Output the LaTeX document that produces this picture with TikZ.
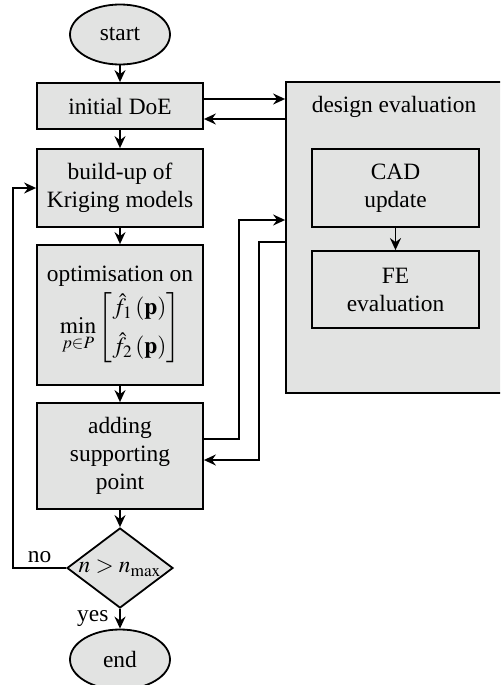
\documentclass[tikz,border=0pt]{standalone}
\usepackage{amsmath}
\usepackage{mathptmx}
\usepackage{fontspec}
\setmainfont{Liberation Serif}
\usetikzlibrary{shapes.geometric,arrows.meta}
\definecolor{boxgray}{HTML}{E2E3E2}

\begin{document}
\begin{tikzpicture}[x=0.5pt,y=-0.5pt,font=\fontsize{11.7}{14}\selectfont,
		stepbox/.style={draw,line width=0.9pt,fill=boxgray,minimum width=83pt,align=center},
		term/.style={ellipse,draw,line width=0.9pt,fill=boxgray,minimum width=50pt,minimum height=30pt},
		test/.style={diamond,draw,line width=0.9pt,fill=boxgray,aspect=1.33,inner sep=0pt,minimum width=53pt,minimum height=40pt},
		flow/.style={-{Stealth[length=6pt,width=5.5pt,inset=2pt]},line width=0.9pt}]
			\path[use as bounding box,clip] (0,0) rectangle (500,685);
			% main loop
			\node[term] (start) at (120,34.5) {start};
			\node[stepbox,minimum height=23pt] (init) at (120,106) {initial DoE};
			\node[stepbox,minimum height=39pt] (build) at (120,188) {build-up of\\Kriging models};
			\node[stepbox,minimum height=70pt] (optim) at (120,315) {optimisation on\\[1pt]
				$\displaystyle\min_{p\in P}\renewcommand{\arraystretch}{1.25}
				\begin{bmatrix}\hat f_1\,(\mathbf p)\\[2pt] \hat f_2\,(\mathbf p)\end{bmatrix}$};
			\node[stepbox,minimum height=53pt] (adding) at (120,456) {adding\\supporting\\point};
			\node[test] (check) at (120,568) {$n>n_{\max}$};
			\node[term] (stop) at (120,659.5) {end};
			% evaluation block
			\node[stepbox,minimum width=109.5pt,minimum height=155.5pt] (eval) at (395.5,237.5) {};
			\node (evaltitle) at (394,107) {design evaluation};
			\node[stepbox,minimum width=83.5pt,minimum height=39pt] (cad) at (395.5,188) {CAD\\update};
			\node[stepbox,minimum width=83.5pt,minimum height=38.5pt] (fe) at (395.5,289.5) {FE\\evaluation};
			\coordinate (loopx) at (13,0);
			\coordinate (upx) at (239,220);
			\coordinate (downx) at (259,242);

			\draw[flow] (start) -- (init);
			\draw[flow] (init) -- (build);
			\draw[flow] (build) -- (optim);
			\draw[flow] (optim) -- (adding);
			\draw[flow] (adding) -- (check);
			\draw[flow] (check) -- (stop) node[midway,left=2pt] {yes};
			\draw[flow] (check.west) -- (check.west -| loopx) node[midway,above=-1pt] {no} |- (build.west);
			\draw[flow] (cad) -- (fe);
			\draw[flow] (init.east |- 0,99) -- (eval.west |- 0,99);
			\draw[flow] (eval.west |- 0,119) -- (init.east |- 0,119);
			\draw[flow] (adding.east |- 0,439) -| (upx) -- (upx -| eval.west);
			\draw[flow] (downx -| eval.west) -| (downx |- 0,460) -- (adding.east |- 0,460);
		\end{tikzpicture}
\end{document}
